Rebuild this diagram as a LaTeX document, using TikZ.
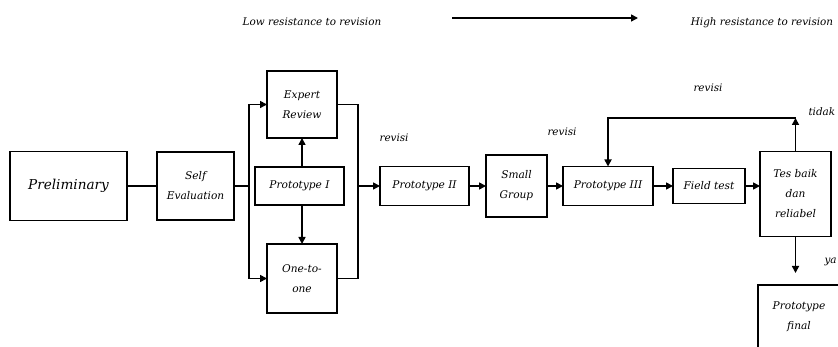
\documentclass[tikz,border=0pt]{standalone}
\usepackage{fontspec}
\setmainfont{DejaVu Serif}
\usetikzlibrary{arrows.meta,positioning,calc}

\begin{document}
\begin{tikzpicture}[
    x=1pt, y=-1pt,
    box/.style={rectangle, draw, line width=1.6pt, outer sep=0pt, align=center, inner sep=2pt, font=\fontsize{10.6}{20}\selectfont\itshape},
    arr/.style={-{Triangle[length=7pt,width=7pt]}, line width=1.6pt},
    lnk/.style={line width=1.6pt},
    lbl/.style={font=\fontsize{10.4}{12}\selectfont\itshape}
]
    \useasboundingbox (0,0) rectangle (838,347);

    % Heading
    \node[lbl] (low) at (312,22) {Low resistance to revision};
    \node[lbl] (high) at (762,23) {High resistance to revision};
    \coordinate (h1) at (452,18);
    \coordinate (h2) at (638,18);
    \draw[arr] (h1) -- (h2);

    % Stages
    \node[box, minimum width=117pt, minimum height=69pt, font=\fontsize{13.6}{16}\selectfont\itshape] (prelim) at (68.5,186) {Preliminary};
    \node[box, minimum width=77pt, minimum height=68pt, right=30pt of prelim] (self) {Self\\Evaluation};
    \node[box, minimum width=89pt, minimum height=38pt, right=21pt of self] (p1) {Prototype I};
    \node[box, minimum width=70pt, minimum height=67pt, above=29pt of p1, xshift=2.5pt] (expert) {Expert\\Review};
    \node[box, minimum width=70pt, minimum height=69pt, below=39pt of p1, xshift=2.5pt] (one) {One-to-\\one};
    \node[box, minimum width=89pt, minimum height=39pt, right=36pt of p1] (p2) {Prototype II};
    \node[box, minimum width=61pt, minimum height=62pt, right=17pt of p2] (small) {Small\\Group};
    \node[box, minimum width=90pt, minimum height=39pt, right=16pt of small] (p3) {Prototype III};
    \node[box, minimum width=72pt, minimum height=35pt, right=20pt of p3] (field) {Field test};
    \node[box, minimum width=71pt, minimum height=85pt, right=15pt of field, yshift=-8pt] (tes) {Tes baik\\dan\\reliabel};
    \node[box, minimum width=82pt, minimum height=64pt, anchor=north west] (final) at (758,285) {Prototype\\final};

    % Formative loop
    \coordinate (busL) at ($(self.east)+(15,0)$);
    \coordinate (busR) at ($(p1.east)+(14,0)$);
    \draw[lnk] (prelim) -- (self);
    \draw[lnk] (self.east) -- (busL);
    \draw[arr] (busL) |- (expert.west);
    \draw[arr] (busL) |- (one.west);
    \draw[arr] (p1.north -| expert) -- (expert);
    \draw[arr] (p1.south -| one) -- (one);
    \draw[lnk] (expert.east) -| (busR);
    \draw[lnk] (one.east) -| (busR);
    \draw[arr] (busR) -- (p2);
    \node[lbl, anchor=west] (rev1) at (376,138) {revisi};

    % Main line
    \draw[arr] (p2) -- (small);
    \draw[arr] (small) -- (p3);
    \draw[arr] (p3) -- (field);
    \draw[arr] (field.east) -- (field.east -| tes.west);
    \node[lbl] (rev2) at (562,132) {revisi};

    % Feedback
    \coordinate (top) at (796,118);
    \draw[arr] (tes.north) -- (tes.north |- top);
    \draw[arr] (tes.north |- top) -| (p3.north);
    \node[lbl] (rev3) at (708,88) {revisi};
    \node[lbl, anchor=west] (no) at (805,112) {tidak};

    % Final
    \draw[arr, shorten >=12pt] (tes.south) -- (tes.south |- final.north);
    \node[lbl, anchor=west] (yes) at (821,262) {ya};
\end{tikzpicture}
\end{document}
